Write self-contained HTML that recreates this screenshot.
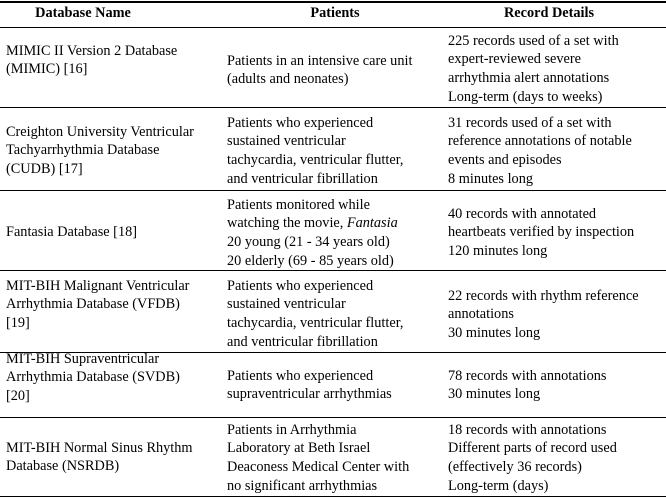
<!DOCTYPE html>
<html><head><meta charset="utf-8"><style>
body{margin:0;width:666px;height:499px;background:#fff;position:relative;overflow:hidden;font-family:"Liberation Serif",serif;font-size:14.3px;color:#000}
.t{position:absolute;line-height:18.7px;white-space:nowrap}
.h{position:absolute;top:5px;font-weight:bold;transform:translateX(-50%);white-space:nowrap}
.l{position:absolute;left:0;width:666px;height:1.5px;background:#000}
</style></head><body>
<div class="l" style="top:1px"></div>
<div class="l" style="top:26.5px"></div>
<div class="l" style="top:107px;height:1px"></div>
<div class="l" style="top:190px;height:1px"></div>
<div class="l" style="top:270px;height:1px"></div>
<div class="l" style="top:352px;height:1px"></div>
<div class="l" style="top:417px;height:1px"></div>
<div class="l" style="top:495.5px"></div>

<div class="h" style="left:83px">Database Name</div>
<div class="h" style="left:335px">Patients</div>
<div class="h" style="left:549px">Record Details</div>

<div class="t" style="left:6px;top:41.5px">MIMIC II Version 2 Database<br>(MIMIC) [16]</div>
<div class="t" style="left:227px;top:51.5px">Patients in an intensive care unit<br>(adults and neonates)</div>
<div class="t" style="left:448px;top:31.5px">225 records used of a set with<br>expert-reviewed severe<br>arrhythmia alert annotations<br>Long-term (days to weeks)</div>

<div class="t" style="left:6px;top:122.5px">Creighton University Ventricular<br>Tachyarrhythmia Database<br>(CUDB) [17]</div>
<div class="t" style="left:227px;top:113.5px">Patients who experienced<br>sustained ventricular<br>tachycardia, ventricular flutter,<br>and ventricular fibrillation</div>
<div class="t" style="left:448px;top:113.5px">31 records used of a set with<br>reference annotations of notable<br>events and episodes<br>8 minutes long</div>

<div class="t" style="left:6px;top:222.5px">Fantasia Database [18]</div>
<div class="t" style="left:227px;top:195.5px">Patients monitored while<br>watching the movie, <i>Fantasia</i><br>20 young (21 - 34 years old)<br>20 elderly (69 - 85 years old)</div>
<div class="t" style="left:448px;top:204.5px">40 records with annotated<br>heartbeats verified by inspection<br>120 minutes long</div>

<div class="t" style="left:6px;top:276.5px">MIT-BIH Malignant Ventricular<br>Arrhythmia Database (VFDB)<br>[19]</div>
<div class="t" style="left:227px;top:276.5px">Patients who experienced<br>sustained ventricular<br>tachycardia, ventricular flutter,<br>and ventricular fibrillation</div>
<div class="t" style="left:448px;top:286.5px">22 records with rhythm reference<br>annotations<br>30 minutes long</div>

<div class="t" style="left:6px;top:349.5px">MIT-BIH Supraventricular<br>Arrhythmia Database (SVDB)<br>[20]</div>
<div class="t" style="left:227px;top:366.5px">Patients who experienced<br>supraventricular arrhythmias</div>
<div class="t" style="left:448px;top:366.5px">78 records with annotations<br>30 minutes long</div>

<div class="t" style="left:6px;top:438.5px">MIT-BIH Normal Sinus Rhythm<br>Database (NSRDB)</div>
<div class="t" style="left:227px;top:420.5px">Patients in Arrhythmia<br>Laboratory at Beth Israel<br>Deaconess Medical Center with<br>no significant arrhythmias</div>
<div class="t" style="left:448px;top:420.5px">18 records with annotations<br>Different parts of record used<br>(effectively 36 records)<br>Long-term (days)</div>
</body></html>
